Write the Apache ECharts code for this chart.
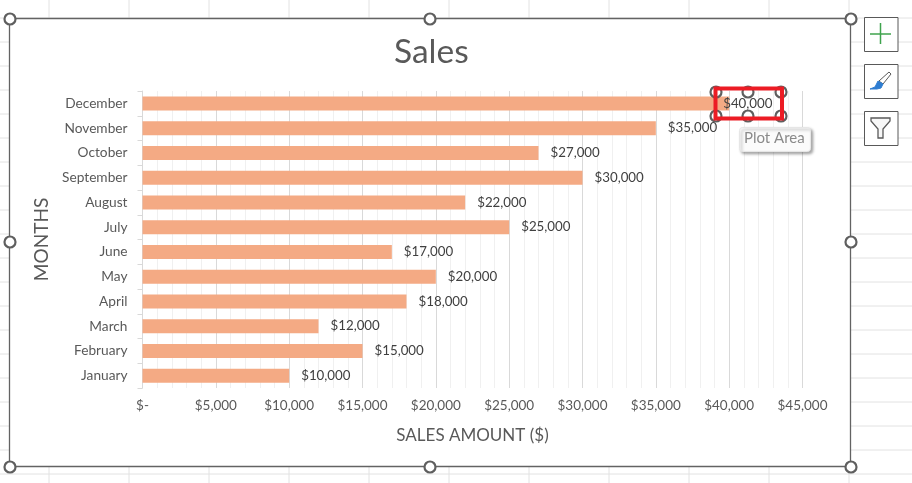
<!DOCTYPE html>
<html>
<head>
<meta charset="utf-8">
<style>
  html, body { margin: 0; padding: 0; background: #fff; }
  #chart-container { width: 912px; height: 483px; }
</style>
<script src="https://cdn.jsdelivr.net/npm/echarts@6/dist/echarts.min.js"></script>
</head>
<body>
<div id="chart-container"></div>
<script>
// data
const months = ['January', 'February', 'March', 'April', 'May', 'June', 'July', 'August', 'September', 'October', 'November', 'December'];
const sales = [10000, 15000, 12000, 18000, 20000, 17000, 25000, 22000, 30000, 27000, 35000, 40000];
const tickLabels = ['$-', '$5,000', '$10,000', '$15,000', '$20,000', '$25,000', '$30,000', '$35,000', '$40,000', '$45,000'];

const FONT = 'Lato';
const GREY = '#595959';
const SHEET_LINE = '#e2e2e2';

const dollars = (v) => '$' + v.toLocaleString('en-US');

// worksheet cells behind the chart
const sheetLines = [];
for (let x = 49; x < 912; x += 80) {
    sheetLines.push({ type: 'line', z: -10, silent: true, shape: { x1: x, y1: 0, x2: x, y2: 483 }, style: { stroke: SHEET_LINE, lineWidth: 1 } });
}
for (let y = 18; y < 483; y += 24) {
    sheetLines.push({ type: 'line', z: -10, silent: true, shape: { x1: 0, y1: y, x2: 912, y2: y }, style: { stroke: SHEET_LINE, lineWidth: 1 } });
}

const handle = (cx, cy) => ({
    type: 'circle', z: 10, silent: true,
    shape: { cx: cx, cy: cy, r: 5.5 },
    style: { fill: '#fff', stroke: '#5f5f5f', lineWidth: 2.2 }
});

const iconBox = (y) => ({
    type: 'rect', z: 10, silent: true,
    shape: { x: 864.5, y: y, width: 33.5, height: 34 },
    style: { fill: '#fff', stroke: GREY, lineWidth: 1 }
});

const overlay = [
    // chart area frame
    { type: 'rect', z: -5, silent: true, shape: { x: 9.5, y: 18.5, width: 841, height: 448 }, style: { fill: '#fff', stroke: '#636363', lineWidth: 1.3 } },
    handle(10, 19), handle(430, 19), handle(851, 19),
    handle(10, 242), handle(851, 242),
    handle(10, 467), handle(430, 467), handle(851, 467),
    // selected label
    handle(716, 92), handle(748, 92), handle(781, 92),
    handle(716, 116), handle(748, 116), handle(781, 116),
    { type: 'rect', z: 11, silent: true, shape: { x: 715.5, y: 88.5, width: 66.5, height: 30 }, style: { fill: 'none', stroke: '#ec1c24', lineWidth: 4 } },
    // tooltip
    {
        type: 'rect', z: 12, silent: true,
        shape: { x: 739.5, y: 127.5, width: 71, height: 24, r: 3 },
        style: { fill: '#fbfbfb', stroke: '#e6e6e6', lineWidth: 1, shadowBlur: 3, shadowOffsetX: 2, shadowOffsetY: 2, shadowColor: 'rgba(0,0,0,0.35)' }
    },
    { type: 'text', z: 13, silent: true, x: 744, y: 131, style: { text: 'Plot Area', fill: '#8a8a8a', font: '15px ' + FONT } },
    // side buttons
    iconBox(17.5), iconBox(64.5), iconBox(111.5),
    { type: 'line', z: 11, silent: true, shape: { x1: 870, y1: 34, x2: 891, y2: 34 }, style: { stroke: '#3fa34d', lineWidth: 1.5 } },
    { type: 'line', z: 11, silent: true, shape: { x1: 880.5, y1: 23, x2: 880.5, y2: 44 }, style: { stroke: '#3fa34d', lineWidth: 1.5 } },
    { type: 'polygon', z: 11, silent: true, shape: { points: [[879, 81], [889, 72], [891, 74], [883, 84]] }, style: { fill: '#fff', stroke: GREY, lineWidth: 1 } },
    { type: 'polygon', z: 11, silent: true, shape: { points: [[870, 89], [875, 87], [878, 81], [883, 84], [881, 88], [877, 89]] }, style: { fill: '#2e7dd1', stroke: '#2e7dd1', lineWidth: 1 } },
    { type: 'polygon', z: 11, silent: true, shape: { points: [[871, 118], [890, 118], [890, 121], [883, 129], [883, 138], [878, 138], [878, 129], [871, 121]] }, style: { fill: '#f7f7f7', stroke: GREY, lineWidth: 1.3 } }
];

const myChart = echarts.init(document.getElementById('chart-container'), null, { renderer: 'canvas' });

const option = {
    animation: false,
    backgroundColor: '#fff',
    textStyle: { fontFamily: FONT },
    title: {
        text: 'Sales',
        left: 389,
        top: 30,
        textStyle: { fontFamily: FONT, fontSize: 33.5, fontWeight: 'normal', color: GREY }
    },
    grid: { left: 142.5, top: 91, width: 660, height: 297, containLabel: false },
    xAxis: {
        type: 'value',
        min: 0,
        max: 45000,
        interval: 5000,
        axisLine: { show: false },
        axisTick: { show: false },
        minorTick: { show: false, splitNumber: 5 },
        splitLine: { show: true, lineStyle: { color: '#d9d9d9', width: 1 } },
        minorSplitLine: { show: true, lineStyle: { color: '#f0f0f0', width: 1 } },
        axisLabel: {
            margin: 11,
            fontFamily: FONT,
            fontSize: 13.5,
            color: GREY,
            formatter: (v) => tickLabels[Math.round(v / 5000)]
        },
        name: 'SALES AMOUNT ($)',
        nameLocation: 'middle',
        nameGap: 39,
        nameTextStyle: { fontFamily: FONT, fontSize: 17, color: GREY }
    },
    yAxis: {
        type: 'category',
        data: months,
        axisLine: { show: true, lineStyle: { color: '#d9d9d9', width: 1 } },
        axisTick: { show: true, length: 5, alignWithLabel: false, lineStyle: { color: '#d9d9d9' } },
        axisLabel: { margin: 15, fontFamily: FONT, fontSize: 13.7, color: GREY },
        name: 'MONTHS',
        nameLocation: 'middle',
        nameGap: 90,
        nameRotate: 90,
        nameTextStyle: { fontFamily: FONT, fontSize: 19, color: GREY }
    },
    series: [
        {
            type: 'bar',
            // the December label was dragged back over the end of its bar
            data: sales.map((v, i) => (i === sales.length - 1 ? { value: v, label: { offset: [-18, 0] } } : v)),
            barWidth: 14,
            itemStyle: { color: '#f4aa84' },
            label: {
                show: true,
                position: 'right',
                distance: 12,
                fontFamily: FONT,
                fontSize: 13.3,
                color: '#404040',
                formatter: (p) => dollars(p.value)
            }
        }
    ],
    graphic: { elements: sheetLines.concat(overlay) }
};

myChart.setOption(option);
window.addEventListener('resize', myChart.resize);
</script>
</body>
</html>
